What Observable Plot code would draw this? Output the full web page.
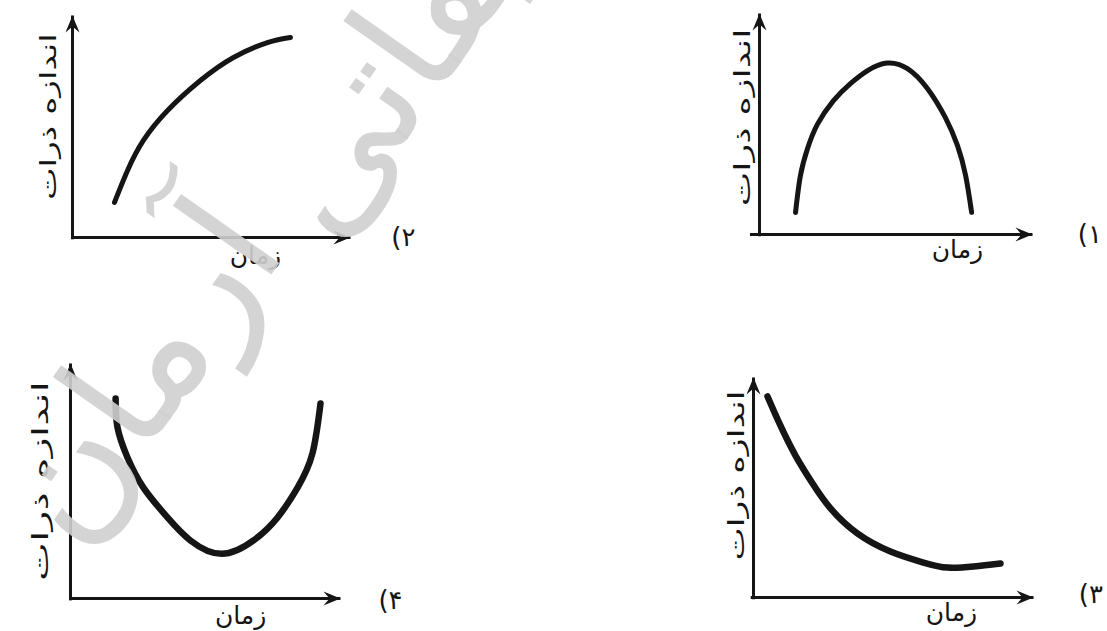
<!DOCTYPE html>
<html>
<head>
<meta charset="utf-8">
<script src="https://cdn.jsdelivr.net/npm/d3@7"></script>
<script src="https://cdn.jsdelivr.net/npm/@observablehq/plot@0.6"></script>
<style>
  html, body { margin: 0; padding: 0; background: #fff; }
  #chart { position: relative; width: 1107px; height: 631px; background: #fff; overflow: hidden; }
  #chart svg { position: absolute; left: 0; top: 0; }
</style>
</head>
<body>
<div id="chart"></div>
<script>
// ---------- data (time vs. particle size, arbitrary units 0..10) ----------
const xLabel = "زمان";
const yLabel = "اندازه ذرات";
const panelLabels = ["(۱", "(۲", "(۳", "(۴"];
const watermarkWords = ["آرمان", "تحقیقاتی"];

// (1) rises then falls
const time1 = [1.32, 1.50, 1.76, 2.12, 2.71, 3.33, 3.96, 4.67, 5.42, 6.15, 6.81, 7.25, 7.55, 7.77];
const size1 = [1.00, 2.67, 3.89, 4.98, 6.06, 6.83, 7.42, 7.76, 7.51, 6.61, 5.29, 4.03, 2.67, 1.00];
// (2) rises and levels off
const time2 = [1.51, 1.98, 2.55, 3.42, 4.60, 5.79, 7.01, 7.84];
const size2 = [1.58, 3.02, 4.37, 5.72, 7.07, 8.11, 8.78, 9.01];
// (3) falls and levels off
const time3 = [0.50, 0.96, 1.50, 2.11, 2.75, 3.71, 4.89, 6.07, 6.93, 7.86, 8.82];
const size3 = [9.14, 7.82, 6.45, 5.18, 4.05, 2.91, 2.09, 1.59, 1.36, 1.41, 1.55];
// (4) falls then rises
const time4 = [1.67, 1.74, 2.11, 2.70, 3.59, 4.44, 5.60, 6.78, 7.67, 8.41, 8.96, 9.26];
const size4 = [8.51, 7.28, 6.00, 4.72, 3.45, 2.47, 1.90, 2.47, 3.45, 4.72, 6.17, 8.30];

// ---------- layout & style ----------
const W = 1107, H = 631, AX = 10;
const INK = "#151515";
const FONT = "DejaVu Sans";

// filled, slightly notched arrow head; tip at the symbol origin, pointing right
const arrowHead = {
  draw(ctx) {
    ctx.moveTo(0, 0);
    ctx.lineTo(-17, -7);
    ctx.lineTo(-11, 0);
    ctx.lineTo(-17, 7);
    ctx.closePath();
  }
};

const panels = [
  { time: time1, size: size1, label: panelLabels[0], curveWidth: 5,
    frame: { ox: 759, oy: 234, xTip: 1032, yTip: 13, xStart: -0.35 },
    xLab: [7.25, -0.72], yLab: [-0.62, 5.3], yLen: 178, num: [12.1, 0.0] },
  { time: time3, size: size3, label: panelLabels[2], curveWidth: 6.5,
    frame: { ox: 753, oy: 597, xTip: 1033, yTip: 377, xStart: -0.1 },
    xLab: [7.07, -0.7], yLab: [-0.6, 5.55], yLen: 170, num: [12.05, 0.15] },
  { time: time2, size: size2, label: panelLabels[1], curveWidth: 5,
    frame: { ox: 72, oy: 237, xTip: 350, yTip: 15, xStart: 0 },
    xLab: [6.58, -0.82], yLab: [-0.83, 5.45], yLen: 167, num: [11.9, 0.0] },
  { time: time4, size: size4, label: panelLabels[3], curveWidth: 6.5,
    frame: { ox: 70, oy: 598, xTip: 340, yTip: 363, xStart: 0 },
    xLab: [6.3, -0.75], yLab: [-1.1, 5.0], yLen: 200, num: [11.85, -0.1],
    watermark: true }
];

const container = document.getElementById("chart");

for (const p of panels) {
  const f = p.frame;
  const pts = p.time.map((t, i) => ({ t, s: p.size[i] }));
  const axes = [
    { x1: f.xStart, y1: 0, x2: AX, y2: 0 },
    { x1: 0, y1: -0.08, x2: 0, y2: AX }
  ];
  const tips = [
    { x: AX, y: 0, rot: 0 },
    { x: 0, y: AX, rot: -90 }
  ];
  const marks = [
    Plot.link(axes, { x1: "x1", y1: "y1", x2: "x2", y2: "y2",
      stroke: INK, strokeWidth: 3 }),
    Plot.dot(tips, { x: "x", y: "y", rotate: "rot", symbol: arrowHead, r: 1,
      fill: INK, stroke: "none" }),
    Plot.line(pts, { x: "t", y: "s", curve: "natural",
      stroke: INK, strokeWidth: p.curveWidth, strokeLinecap: "round", strokeLinejoin: "round" }),
    Plot.text([{ x: p.xLab[0], y: p.xLab[1], t: xLabel }], {
      x: "x", y: "y", text: "t", fontSize: 25, fontFamily: FONT, fill: INK }),
    Plot.text([{ x: p.yLab[0], y: p.yLab[1], t: yLabel }], {
      x: "x", y: "y", text: "t", rotate: -90, fontSize: 22, fontFamily: FONT, fill: INK }),
    Plot.text([{ x: p.num[0], y: p.num[1], t: p.label }], {
      x: "x", y: "y", text: "t", fontSize: 26, fontFamily: FONT, fill: INK })
  ];
  if (p.watermark) {
    const wm = [
      { x: 2.6, y: 9.6, t: watermarkWords[0] },
      { x: 14.3, y: 26.3, t: watermarkWords[1] }
    ];
    marks.push(Plot.text(wm, { x: "x", y: "y", text: "t", rotate: -55,
      fontSize: 158, fontFamily: FONT, fill: "#cfcfcf", fillOpacity: 0.9 }));
  }
  const svg = Plot.plot({
    width: W, height: H,
    marginLeft: f.ox, marginRight: W - f.xTip, marginTop: f.yTip, marginBottom: H - f.oy,
    x: { domain: [0, AX], axis: null },
    y: { domain: [0, AX], axis: null },
    style: { background: "transparent", overflow: "visible", fontFamily: FONT },
    marks
  });
  const texts = d3.select(svg).selectAll("text");
  texts.filter(function () { return this.textContent === yLabel; })
    .attr("textLength", p.yLen)
    .attr("lengthAdjust", "spacingAndGlyphs");
  // option numbers are drawn as "(n" in visual order
  texts.filter(function () { return this.textContent === p.label; })
    .style("direction", "ltr")
    .style("unicode-bidi", "bidi-override");
  container.appendChild(svg);
}
</script>
</body>
</html>
